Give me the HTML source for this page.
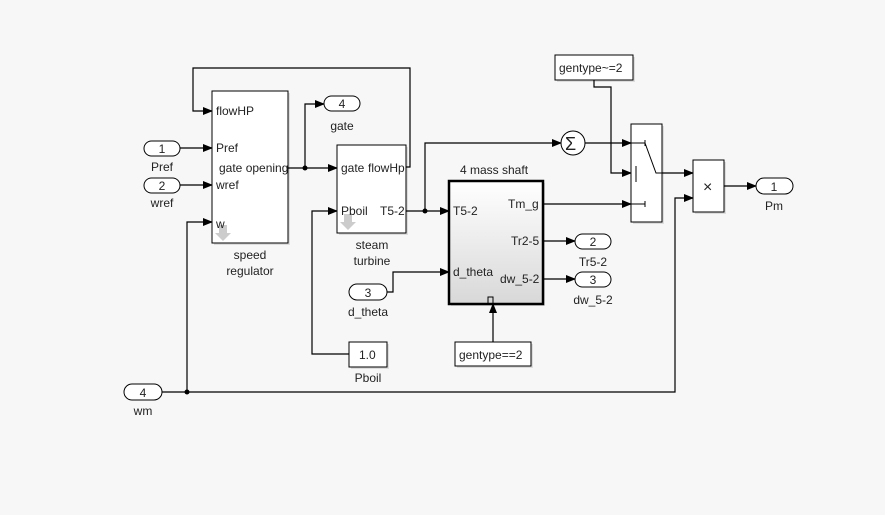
<!DOCTYPE html>
<html><head><style>
html,body{margin:0;padding:0;background:#f7f7f7;}
svg{display:block;}
text{font-family:"Liberation Sans",sans-serif;font-size:12px;fill:#222;}
</style></head><body>
<svg width="885" height="515" viewBox="0 0 885 515" xmlns="http://www.w3.org/2000/svg">
<defs>
<marker id="a" markerWidth="10" markerHeight="8" refX="9" refY="4" orient="auto" markerUnits="userSpaceOnUse"><path d="M0,0 L10,4 L0,8 Z" fill="#000"/></marker>
<linearGradient id="g" x1="0" y1="0" x2="0" y2="1"><stop offset="0" stop-color="#fff"/><stop offset="1" stop-color="#d8d8d8"/></linearGradient>
</defs>
<rect width="885" height="515" fill="#f7f7f7"/>
<g fill="#ddd">
<rect x="214" y="93" width="76" height="152"/><rect x="339" y="147" width="69" height="88"/>
<rect x="633" y="126" width="31" height="98"/><rect x="695" y="162" width="31" height="52"/>
<rect x="557" y="57" width="78" height="25"/><rect x="457" y="344" width="76" height="24"/>
<rect x="351" y="344" width="38" height="25"/><rect x="451" y="183" width="94" height="123"/>
</g>
<g fill="none" stroke="#000" stroke-width="1.2">
<polyline points="406,167 410,167 410,68 193,68 193,111 212,111" marker-end="url(#a)"/>
<line x1="180" y1="148" x2="212" y2="148" marker-end="url(#a)"/>
<line x1="180" y1="185" x2="212" y2="185" marker-end="url(#a)"/>
<polyline points="187,392 187,222 212,222" marker-end="url(#a)"/>
<line x1="288" y1="168" x2="337" y2="168" marker-end="url(#a)"/>
<polyline points="305,168 305,104 324,104" marker-end="url(#a)"/>
<polyline points="349,354 312,354 312,211 337,211" marker-end="url(#a)"/>
<line x1="406" y1="211" x2="449" y2="211" marker-end="url(#a)"/>
<polyline points="425,211 425,143 561,143" marker-end="url(#a)"/>
<line x1="585" y1="143" x2="631" y2="143" marker-end="url(#a)"/>
<polyline points="594,80 594,87 611,87 611,173 631,173" marker-end="url(#a)"/>
<line x1="543" y1="204" x2="631" y2="204" marker-end="url(#a)"/>
<line x1="662" y1="173" x2="693" y2="173" marker-end="url(#a)"/>
<polyline points="162,392 675,392 675,198 693,198" marker-end="url(#a)"/>
<line x1="724" y1="186" x2="756" y2="186" marker-end="url(#a)"/>
<polyline points="387,292 393,292 393,272 449,272" marker-end="url(#a)"/>
<line x1="543" y1="241" x2="575" y2="241" marker-end="url(#a)"/>
<line x1="543" y1="279" x2="575" y2="279" marker-end="url(#a)"/>
<line x1="493" y1="342" x2="493" y2="304" marker-end="url(#a)"/>
</g>
<g fill="#000"><circle cx="305" cy="168" r="2.5"/><circle cx="425" cy="211" r="2.5"/><circle cx="187" cy="392" r="2.5"/></g>
<g stroke="#000" stroke-width="1" fill="#fff">
<rect x="212" y="91" width="76" height="152"/>
<rect x="337" y="145" width="69" height="88"/>
<rect x="631" y="124" width="31" height="98"/>
<rect x="693" y="160" width="31" height="52"/>
<rect x="555" y="55" width="78" height="25"/>
<rect x="455" y="342" width="76" height="24"/>
<rect x="349" y="342" width="38" height="25"/>
<circle cx="573" cy="143" r="12"/>
<rect x="449" y="181" width="94" height="123" fill="url(#g)" stroke-width="2.5"/>
<rect x="144" y="141" width="36" height="15" rx="7.5"/>
<rect x="144" y="178" width="36" height="15" rx="7.5"/>
<rect x="349" y="284" width="38" height="16" rx="8"/>
<rect x="124" y="384" width="38" height="16" rx="8"/>
<rect x="324" y="96" width="36" height="15" rx="7.5"/>
<rect x="575" y="234" width="36" height="15" rx="7.5"/>
<rect x="575" y="272" width="36" height="15" rx="7.5"/>
<rect x="756" y="178" width="37" height="16" rx="8"/>
</g>
<g stroke="#000" stroke-width="1" fill="none">
<line x1="631" y1="143" x2="645" y2="143"/><line x1="645" y1="140" x2="645" y2="146"/>
<line x1="631" y1="204" x2="645" y2="204"/><line x1="645" y1="201" x2="645" y2="207"/>
<line x1="636" y1="166" x2="636" y2="182"/>
<polyline points="645,143 656,173 662,173"/>
<path d="M488,303 v-6 h5 v6" />
</g>
<path d="M219,225 h8 v8 h4 l-8,8 l-8,-8 h4 z" fill="#ccc"/>
<path d="M344,214 h8 v8 h4 l-8,8 l-8,-8 h4 z" fill="#ccc"/>
<text x="565" y="150" style="font-size:18px">Σ</text>
<text x="703" y="192" style="font-size:16px">×</text>
<text x="216" y="115">flowHP</text>
<text x="216" y="152">Pref</text>
<text x="219" y="172">gate opening</text>
<text x="216" y="189">wref</text>
<text x="216" y="228">w</text>
<text x="341" y="172">gate</text>
<text x="368" y="172">flowHp</text>
<text x="341" y="215">Pboil</text>
<text x="380" y="215">T5-2</text>
<text x="453" y="215">T5-2</text>
<text x="508" y="208">Tm_g</text>
<text x="511" y="245">Tr2-5</text>
<text x="453" y="276">d_theta</text>
<text x="500" y="283">dw_5-2</text>
<text x="460" y="174">4 mass shaft</text>
<text x="559" y="72">gentype~=2</text>
<text x="459" y="359">gentype==2</text>
<text x="359" y="359">1.0</text>
<g text-anchor="middle">
<text x="162" y="153">1</text><text x="162" y="190">2</text><text x="368" y="297">3</text><text x="143" y="397">4</text>
<text x="342" y="108">4</text><text x="593" y="246">2</text><text x="593" y="284">3</text><text x="774" y="191">1</text>
<text x="162" y="171">Pref</text><text x="162" y="207">wref</text><text x="368" y="316">d_theta</text><text x="143" y="415">wm</text>
<text x="342" y="130">gate</text><text x="593" y="266">Tr5-2</text><text x="593" y="304">dw_5-2</text><text x="774" y="210">Pm</text>
<text x="250" y="259">speed</text><text x="250" y="275">regulator</text>
<text x="372" y="249">steam</text><text x="372" y="265">turbine</text>
<text x="368" y="382">Pboil</text>
</g>
</svg>
</body></html>
